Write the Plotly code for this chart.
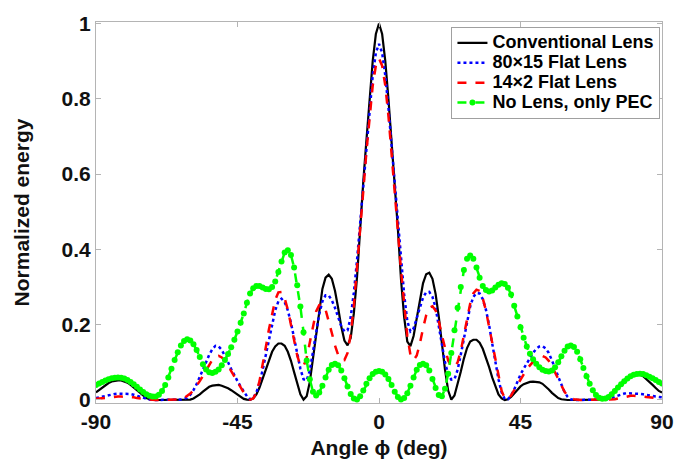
import plotly.graph_objects as go

angle_deg = list(range(-90, 91))

conventional_lens = [
    0.020,0.026,0.033,0.040,0.045,0.049,0.051,0.052,0.052,0.050,
    0.046,0.040,0.033,0.025,0.017,0.010,0.005,0.002,0.000,0.000,
    0.000,0.000,0.000,0.000,0.000,0.000,0.000,0.000,0.000,0.000,
    0.001,0.004,0.009,0.015,0.022,0.029,0.035,0.038,0.040,0.040,
    0.038,0.035,0.031,0.026,0.020,0.014,0.008,0.003,0.001,0.000,
    0.004,0.015,0.033,0.056,0.082,0.107,0.128,0.142,0.150,0.150,
    0.144,0.128,0.104,0.074,0.043,0.015,0.001,0.010,0.048,0.110,
    0.180,0.245,0.295,0.325,0.333,0.322,0.290,0.245,0.195,0.158,
    0.145,0.165,0.230,0.325,0.460,0.580,0.690,0.800,0.900,0.972,
    1.000,0.972,0.900,0.800,0.690,0.575,0.455,0.320,0.220,0.155,
    0.143,0.170,0.215,0.265,0.310,0.334,0.338,0.322,0.282,0.222,
    0.150,0.080,0.025,0.001,0.012,0.040,0.075,0.110,0.138,0.155,
    0.160,0.160,0.152,0.136,0.114,0.088,0.060,0.035,0.015,0.004,
    0.000,0.002,0.008,0.017,0.027,0.036,0.042,0.046,0.048,0.049,
    0.049,0.047,0.043,0.036,0.028,0.019,0.011,0.005,0.002,0.000,
    0.000,0.000,0.000,0.000,0.000,0.000,0.000,0.000,0.000,0.000,
    0.000,0.001,0.004,0.010,0.018,0.027,0.036,0.045,0.053,0.059,
    0.064,0.067,0.068,0.067,0.063,0.056,0.048,0.040,0.032,0.024,
    0.020,
]

flat_lens_80x15 = [
    0.005,0.007,0.009,0.011,0.013,0.015,0.016,0.017,0.017,0.017,
    0.017,0.016,0.014,0.011,0.008,0.005,0.003,0.001,0.000,0.000,
    0.000,0.000,0.000,0.000,0.000,0.000,0.000,0.001,0.003,0.006,
    0.014,0.026,0.042,0.060,0.080,0.100,0.120,0.135,0.144,0.142,
    0.133,0.118,0.100,0.082,0.065,0.050,0.036,0.022,0.010,0.002,
    0.005,0.020,0.045,0.080,0.120,0.162,0.203,0.238,0.262,0.269,
    0.260,0.238,0.205,0.165,0.122,0.083,0.055,0.052,0.078,0.125,
    0.180,0.228,0.262,0.278,0.278,0.265,0.245,0.220,0.196,0.182,
    0.185,0.220,0.285,0.370,0.470,0.575,0.678,0.776,0.862,0.922,
    0.946,0.922,0.862,0.776,0.678,0.572,0.465,0.365,0.280,0.210,
    0.182,0.190,0.215,0.245,0.272,0.286,0.287,0.274,0.245,0.200,
    0.148,0.100,0.068,0.054,0.055,0.080,0.120,0.165,0.210,0.248,
    0.274,0.284,0.283,0.268,0.240,0.200,0.150,0.100,0.055,0.020,
    0.002,0.002,0.012,0.028,0.050,0.068,0.083,0.098,0.112,0.125,
    0.136,0.142,0.143,0.137,0.125,0.107,0.085,0.062,0.040,0.021,
    0.008,0.002,0.000,0.000,0.000,0.000,0.000,0.000,0.000,0.000,
    0.000,0.000,0.001,0.003,0.006,0.009,0.012,0.015,0.017,0.018,
    0.018,0.018,0.017,0.016,0.015,0.013,0.012,0.010,0.009,0.008,
    0.007,
]

flat_lens_14x2 = [
    0.003,0.004,0.005,0.006,0.007,0.008,0.009,0.009,0.009,0.009,
    0.009,0.008,0.007,0.005,0.004,0.002,0.001,0.000,0.000,0.000,
    0.000,0.000,0.000,0.000,0.000,0.000,0.000,0.002,0.005,0.010,
    0.017,0.026,0.037,0.050,0.064,0.079,0.094,0.107,0.115,0.117,
    0.113,0.104,0.091,0.076,0.061,0.046,0.032,0.019,0.008,0.001,
    0.004,0.020,0.050,0.092,0.140,0.188,0.232,0.266,0.286,0.287,
    0.270,0.240,0.200,0.157,0.118,0.092,0.090,0.112,0.155,0.200,
    0.235,0.252,0.254,0.240,0.212,0.178,0.145,0.120,0.108,0.106,
    0.125,0.175,0.250,0.345,0.450,0.555,0.660,0.755,0.835,0.888,
    0.907,0.888,0.835,0.755,0.660,0.555,0.450,0.345,0.250,0.170,
    0.120,0.106,0.118,0.150,0.190,0.225,0.245,0.249,0.238,0.210,
    0.172,0.135,0.105,0.090,0.088,0.100,0.130,0.172,0.215,0.256,
    0.283,0.293,0.290,0.270,0.238,0.195,0.148,0.100,0.058,0.024,
    0.004,0.002,0.012,0.026,0.040,0.055,0.070,0.082,0.092,0.102,
    0.110,0.115,0.117,0.113,0.104,0.090,0.073,0.055,0.037,0.022,
    0.011,0.005,0.002,0.000,0.000,0.000,0.000,0.000,0.000,0.000,
    0.000,0.000,0.000,0.000,0.001,0.002,0.004,0.006,0.008,0.010,
    0.011,0.011,0.011,0.010,0.009,0.008,0.007,0.006,0.005,0.004,
    0.004,
]

no_lens_pec = [
    0.040,0.044,0.048,0.052,0.055,0.058,0.059,0.060,0.059,0.057,
    0.053,0.048,0.042,0.035,0.028,0.021,0.015,0.011,0.009,0.009,
    0.014,0.024,0.040,0.060,0.083,0.106,0.127,0.145,0.157,0.161,
    0.158,0.148,0.133,0.114,0.095,0.081,0.074,0.072,0.075,0.081,
    0.092,0.106,0.122,0.140,0.160,0.182,0.205,0.230,0.258,0.283,
    0.297,0.303,0.303,0.299,0.295,0.294,0.300,0.315,0.340,0.368,
    0.392,0.398,0.385,0.352,0.305,0.248,0.180,0.105,0.055,0.022,
    0.012,0.020,0.038,0.060,0.080,0.093,0.096,0.092,0.078,0.058,
    0.036,0.016,0.004,0.001,0.010,0.025,0.043,0.058,0.069,0.075,
    0.077,0.075,0.068,0.056,0.040,0.022,0.008,0.001,0.005,0.018,
    0.038,0.060,0.080,0.093,0.096,0.092,0.078,0.056,0.032,0.013,
    0.010,0.030,0.070,0.125,0.185,0.245,0.300,0.345,0.375,0.384,
    0.375,0.352,0.325,0.303,0.292,0.288,0.291,0.299,0.306,0.310,
    0.308,0.298,0.280,0.250,0.222,0.193,0.165,0.142,0.123,0.108,
    0.096,0.087,0.080,0.077,0.076,0.078,0.087,0.100,0.116,0.131,
    0.142,0.145,0.141,0.128,0.108,0.085,0.063,0.043,0.026,0.013,
    0.006,0.003,0.004,0.008,0.015,0.024,0.033,0.042,0.050,0.057,
    0.063,0.067,0.069,0.070,0.069,0.066,0.062,0.058,0.053,0.048,
    0.044,
]

series_names = ["Conventional Lens", "80×15 Flat Lens", "14×2 Flat Lens", "No Lens, only PEC"]
x_tick_vals = [-90, -45, 0, 45, 90]
x_tick_text = ["-90", "-45", "0", "45", "90"]
y_tick_vals = [0, 0.2, 0.4, 0.6, 0.8, 1]
y_tick_text = ["0", "0.2", "0.4", "0.6", "0.8", "1"]

FONT = "Liberation Sans, Arial, sans-serif"


def legend_label(name):
    # larger visible text while keeping compact legend rows
    return '<span style="font-size:18px">' + name + "</span>"


fig = go.Figure()
fig.add_trace(go.Scatter(x=angle_deg, y=conventional_lens, name=legend_label(series_names[0]), mode="lines",
                         line=dict(color="#000000", width=2.2, dash="solid")))
fig.add_trace(go.Scatter(x=angle_deg, y=flat_lens_80x15, name=legend_label(series_names[1]), mode="lines",
                         line=dict(color="#0000ff", width=2.5, dash="dot")))
fig.add_trace(go.Scatter(x=angle_deg, y=flat_lens_14x2, name=legend_label(series_names[2]), mode="lines",
                         line=dict(color="#ff0000", width=2.5, dash="dash")))
fig.add_trace(go.Scatter(x=angle_deg, y=no_lens_pec, name=legend_label(series_names[3]), mode="lines+markers",
                         line=dict(color="#00ff00", width=2.5, dash="dash"),
                         marker=dict(color="#00ff00", size=6, symbol="circle")))

axis_common = dict(showline=True, linecolor="#b4b4b4", linewidth=1, mirror="ticks",
                   ticks="inside", ticklen=5, tickcolor="#b4b4b4", tickwidth=1,
                   showgrid=False, zeroline=False,
                   tickfont=dict(family=FONT, size=21, color="#111111", weight="bold"))

fig.update_layout(
    width=686, height=468,
    paper_bgcolor="white", plot_bgcolor="white",
    margin=dict(l=96, r=23, t=14, b=65),
    font=dict(family=FONT, color="#111111"),
    xaxis=dict(range=[-90, 90], tickvals=x_tick_vals, ticktext=x_tick_text,
               title=dict(text="Angle ϕ (deg)", font=dict(family=FONT, size=21, color="#111111", weight="bold"),
                          standoff=8),
               **axis_common),
    yaxis=dict(range=[-0.008, 1.004], tickvals=y_tick_vals, ticktext=y_tick_text,
               title=dict(text="Normalized energy", font=dict(family=FONT, size=21, color="#111111", weight="bold"),
                          standoff=26),
               **axis_common),
    legend=dict(x=0.628, y=0.987, xanchor="left", yanchor="top",
                bgcolor="white", bordercolor="#a0a0a0", borderwidth=1,
                font=dict(family=FONT, size=13, color="#000000", weight="bold"),
                itemwidth=30, tracegroupgap=0),
    showlegend=True,
)

fig.write_html("out.html", config={"displayModeBar": False},
               post_script="document.body.style.margin='0';")
